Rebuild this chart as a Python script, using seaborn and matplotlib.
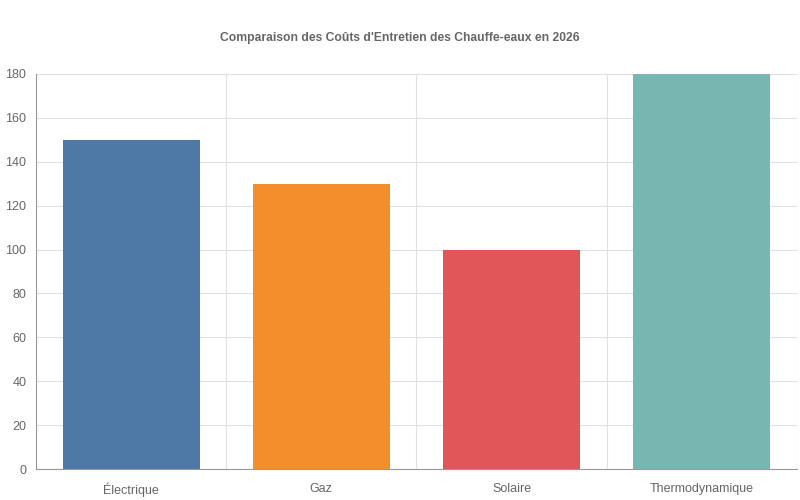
import numpy as np
import pandas as pd
import matplotlib
matplotlib.use('Agg')
import matplotlib.pyplot as plt
import seaborn as sns

categories = ['Électrique', 'Gaz', 'Solaire', 'Thermodynamique']
couts = [150, 130, 100, 180]
couleurs = ['#4e79a7', '#f28e2b', '#e15759', '#76b7b2']

df = pd.DataFrame({'type': categories, 'cout': couts})

sns.set_style('white')
plt.rcParams['font.family'] = ['Liberation Sans', 'DejaVu Sans']

fig = plt.figure(figsize=(8, 5), dpi=100)
ax = fig.add_axes([0.045, 0.062, 0.951, 0.79])

sns.barplot(data=df, x='type', y='cout', hue='type', palette=couleurs,
            width=0.72, saturation=1, legend=False, ax=ax,
            edgecolor='none', zorder=3)

ax.set_ylim(0, 180)
ax.set_xlim(-0.5, 3.5)
ax.set_yticks(np.arange(0, 181, 20))
ax.set_xticks(np.arange(-0.5, 3.6, 1), minor=True)

ax.grid(True, axis='y', color='#e0e0e0', linewidth=0.8, zorder=0)
ax.grid(True, axis='x', which='minor', color='#e0e0e0', linewidth=0.8, zorder=0)
ax.set_axisbelow(True)

ax.tick_params(axis='y', length=5, color='#999999', labelsize=9, labelcolor='#666666', pad=2)
ax.tick_params(axis='x', which='major', length=0, labelsize=9, labelcolor='#666666', pad=10)
ax.tick_params(axis='x', which='minor', length=10, width=0.8, color='#d0d0d0')

for s in ['top', 'right']:
    ax.spines[s].set_visible(False)
ax.spines['left'].set_color('#999999')
ax.spines['bottom'].set_color('#999999')

ax.set_xlabel('')
ax.set_ylabel('')
fig.suptitle("Comparaison des Coûts d'Entretien des Chauffe-eaux en 2026",
             y=0.935, fontsize=8.7, fontweight='bold', color='#666666')

fig.savefig('out.png', dpi=100)
